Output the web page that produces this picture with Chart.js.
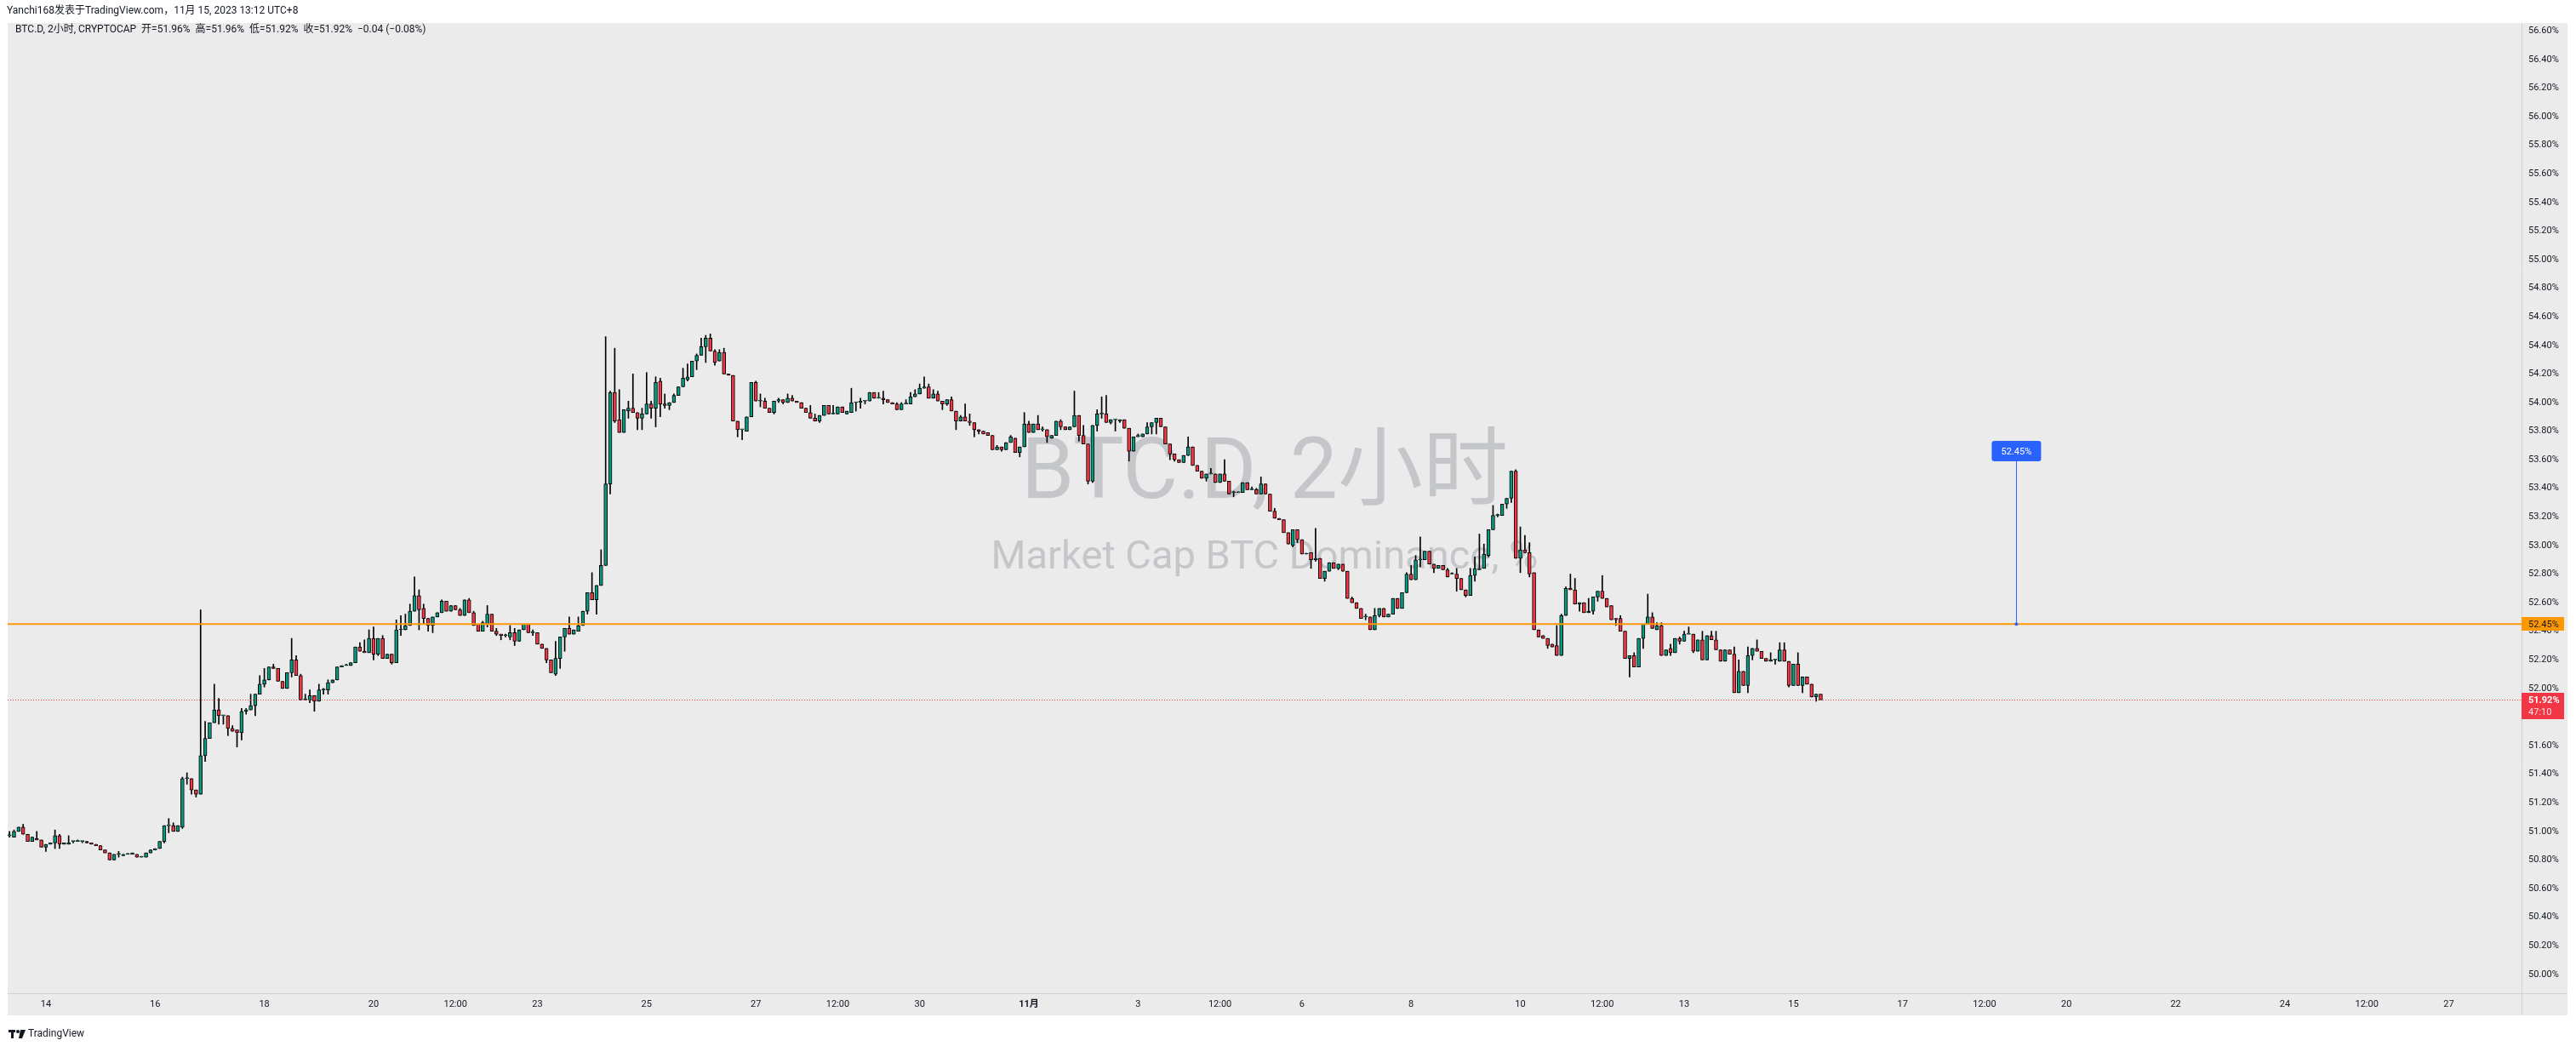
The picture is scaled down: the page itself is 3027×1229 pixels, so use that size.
<!DOCTYPE html>
<html>
<head>
<meta charset="utf-8">
<title>BTC.D, 2小时</title>
<script src="https://cdn.jsdelivr.net/npm/chart.js"></script>
<style>
  html, body { margin: 0; padding: 0; background: #fff; }
  canvas { display: block; }
</style>
</head>
<body>
<canvas id="btcd-chart" width="3027" height="1229"></canvas>
<script>
// 2h candles, first bar 13 Oct 08:00, times in hours from 14 Oct 00:00 (UTC+8)
const firstBarHour = -16;
const barHours = 2;

const opens = [
  50.97, 50.96, 51.00, 51.03, 50.98, 50.93, 50.95, 50.94, 50.89, 50.91, 50.92, 50.97,
  50.91, 50.91, 50.93, 50.93, 50.93, 50.93, 50.92, 50.91, 50.90, 50.87, 50.85, 50.80,
  50.84, 50.83, 50.84, 50.84, 50.84, 50.82, 50.82, 50.85, 50.87, 50.88, 50.93, 51.04,
  51.04, 51.00, 51.03, 51.37, 51.37, 51.29, 51.26, 51.53, 51.65, 51.76, 51.85, 51.81,
  51.81, 51.72, 51.71, 51.69, 51.84, 51.85, 51.88, 51.96, 52.03, 52.06, 52.15, 52.14,
  52.05, 52.00, 52.11, 52.20, 52.09, 51.92, 51.92, 51.95, 51.91, 51.99, 51.99, 52.04,
  52.06, 52.15, 52.16, 52.16, 52.18, 52.29, 52.26, 52.25, 52.35, 52.24, 52.35, 52.21,
  52.24, 52.18, 52.41, 52.41, 52.44, 52.54, 52.65, 52.56, 52.49, 52.44, 52.50, 52.53,
  52.61, 52.54, 52.58, 52.55, 52.51, 52.62, 52.53, 52.45, 52.40, 52.45, 52.52, 52.40,
  52.38, 52.37, 52.36, 52.39, 52.33, 52.41, 52.45, 52.39, 52.39, 52.31, 52.28, 52.20,
  52.10, 52.21, 52.36, 52.42, 52.38, 52.40, 52.44, 52.54, 52.67, 52.62, 52.72, 52.86,
  53.43, 54.07, 53.88, 53.79, 53.94, 53.96, 53.93, 53.89, 53.92, 53.99, 53.96, 54.15,
  53.99, 53.98, 54.00, 54.05, 54.11, 54.16, 54.18, 54.29, 54.33, 54.39, 54.45, 54.36,
  54.29, 54.35, 54.20, 54.19, 53.87, 53.81, 53.80, 53.90, 54.14, 54.01, 54.01, 53.96,
  53.93, 54.01, 54.02, 54.00, 54.03, 54.01, 54.00, 53.96, 53.93, 53.89, 53.87, 53.91,
  53.98, 53.92, 53.92, 53.97, 53.92, 53.93, 54.00, 54.00, 54.01, 54.01, 54.07, 54.03,
  54.03, 54.02, 54.00, 53.99, 53.95, 53.99, 53.99, 54.04, 54.06, 54.10, 54.11, 54.03,
  54.06, 54.01, 53.99, 54.02, 53.94, 53.87, 53.90, 53.87, 53.86, 53.81, 53.80, 53.79,
  53.77, 53.67, 53.69, 53.67, 53.72, 53.75, 53.65, 53.69, 53.85, 53.79, 53.85, 53.81,
  53.81, 53.75, 53.77, 53.87, 53.83, 53.81, 53.83, 53.91, 53.77, 53.71, 53.45, 53.84,
  53.92, 53.92, 53.86, 53.88, 53.87, 53.88, 53.82, 53.66, 53.76, 53.76, 53.78, 53.83,
  53.86, 53.89, 53.83, 53.71, 53.64, 53.60, 53.58, 53.63, 53.69, 53.56, 53.52, 53.47,
  53.50, 53.50, 53.44, 53.50, 53.45, 53.37, 53.37, 53.37, 53.44, 53.39, 53.39, 53.36,
  53.43, 53.36, 53.24, 53.19, 53.18, 53.09, 53.00, 53.11, 53.04, 52.94, 52.95, 52.90,
  52.91, 52.77, 52.82, 52.88, 52.84, 52.87, 52.82, 52.63, 52.60, 52.56, 52.50, 52.50,
  52.41, 52.51, 52.56, 52.50, 52.52, 52.63, 52.56, 52.67, 52.80, 52.76, 52.90, 52.90,
  52.96, 52.87, 52.84, 52.86, 52.83, 52.80, 52.80, 52.77, 52.69, 52.65, 52.79, 52.83,
  52.84, 52.93, 53.11, 53.21, 53.21, 53.29, 53.33, 53.52, 52.91, 52.97, 52.95, 52.81,
  52.41, 52.37, 52.35, 52.31, 52.30, 52.23, 52.51, 52.70, 52.69, 52.59, 52.60, 52.53,
  52.54, 52.64, 52.68, 52.63, 52.58, 52.49, 52.49, 52.40, 52.21, 52.23, 52.15, 52.35,
  52.45, 52.50, 52.41, 52.44, 52.23, 52.28, 52.25, 52.35, 52.33, 52.38, 52.38, 52.26,
  52.34, 52.20, 52.37, 52.34, 52.27, 52.19, 52.27, 52.24, 51.97, 52.12, 52.02, 52.23,
  52.28, 52.26, 52.21, 52.19, 52.20, 52.19, 52.27, 52.19, 52.02, 52.17, 52.02, 52.08,
  52.03, 51.94, 51.96
];
const highs = [
  51.00, 51.01, 51.03, 51.05, 50.98, 50.96, 51.00, 50.94, 50.91, 50.92, 51.01, 50.98,
  50.92, 50.97, 50.93, 50.94, 50.93, 50.93, 50.92, 50.91, 50.90, 50.87, 50.85, 50.84,
  50.86, 50.84, 50.84, 50.85, 50.84, 50.82, 50.85, 50.87, 50.88, 50.93, 51.04, 51.09,
  51.06, 51.04, 51.38, 51.41, 51.37, 51.29, 52.55, 51.77, 51.76, 52.03, 51.93, 51.81,
  51.81, 51.74, 51.71, 51.86, 51.86, 51.96, 51.96, 52.09, 52.14, 52.15, 52.17, 52.14,
  52.05, 52.11, 52.35, 52.23, 52.10, 51.96, 51.99, 51.95, 52.03, 52.00, 52.06, 52.06,
  52.15, 52.16, 52.17, 52.18, 52.29, 52.32, 52.34, 52.41, 52.43, 52.35, 52.37, 52.24,
  52.24, 52.48, 52.51, 52.52, 52.59, 52.78, 52.69, 52.59, 52.49, 52.50, 52.53, 52.62,
  52.61, 52.58, 52.58, 52.56, 52.62, 52.63, 52.54, 52.45, 52.47, 52.58, 52.52, 52.42,
  52.38, 52.38, 52.44, 52.42, 52.41, 52.45, 52.45, 52.41, 52.39, 52.31, 52.28, 52.20,
  52.33, 52.36, 52.42, 52.50, 52.41, 52.50, 52.54, 52.67, 52.81, 52.72, 52.97, 54.46,
  54.08, 54.38, 54.09, 53.95, 54.01, 54.20, 53.93, 53.96, 54.21, 54.01, 54.18, 54.17,
  54.06, 54.00, 54.06, 54.11, 54.24, 54.27, 54.29, 54.34, 54.45, 54.47, 54.48, 54.37,
  54.37, 54.38, 54.20, 54.19, 53.87, 53.81, 53.90, 54.14, 54.15, 54.06, 54.03, 53.96,
  54.01, 54.03, 54.02, 54.06, 54.05, 54.01, 54.00, 53.96, 53.98, 53.92, 53.91, 53.98,
  53.98, 53.98, 53.97, 53.97, 53.94, 54.10, 54.00, 54.03, 54.01, 54.07, 54.07, 54.07,
  54.08, 54.02, 54.00, 54.00, 54.00, 54.02, 54.07, 54.09, 54.13, 54.18, 54.13, 54.09,
  54.08, 54.01, 54.02, 54.04, 53.94, 53.91, 53.99, 53.92, 53.86, 53.81, 53.80, 53.79,
  53.77, 53.70, 53.69, 53.72, 53.77, 53.75, 53.69, 53.93, 53.87, 53.85, 53.91, 53.83,
  53.81, 53.77, 53.87, 53.88, 53.83, 53.83, 54.08, 53.91, 53.84, 53.71, 53.84, 53.95,
  54.04, 54.05, 53.88, 53.88, 53.88, 53.88, 53.82, 53.76, 53.78, 53.78, 53.86, 53.86,
  53.89, 53.89, 53.83, 53.71, 53.64, 53.60, 53.63, 53.76, 53.69, 53.56, 53.52, 53.50,
  53.54, 53.50, 53.50, 53.60, 53.45, 53.38, 53.37, 53.44, 53.44, 53.41, 53.40, 53.48,
  53.43, 53.36, 53.26, 53.19, 53.18, 53.09, 53.11, 53.11, 53.04, 52.94, 52.95, 53.12,
  52.91, 52.82, 52.88, 52.88, 52.87, 52.87, 52.82, 52.64, 52.60, 52.56, 52.52, 52.50,
  52.56, 52.56, 52.56, 52.52, 52.63, 52.63, 52.67, 52.81, 52.86, 52.93, 53.06, 52.96,
  52.96, 52.87, 52.86, 52.86, 52.84, 52.81, 52.84, 52.77, 52.69, 52.84, 52.92, 53.08,
  53.01, 53.11, 53.28, 53.22, 53.29, 53.33, 53.52, 53.53, 53.13, 53.07, 53.02, 52.81,
  52.41, 52.37, 52.35, 52.31, 52.44, 52.52, 52.71, 52.80, 52.77, 52.60, 52.60, 52.63,
  52.64, 52.68, 52.79, 52.63, 52.58, 52.49, 52.51, 52.40, 52.23, 52.25, 52.35, 52.45,
  52.66, 52.53, 52.46, 52.46, 52.27, 52.31, 52.35, 52.36, 52.40, 52.43, 52.38, 52.34,
  52.40, 52.37, 52.40, 52.40, 52.27, 52.27, 52.27, 52.29, 52.20, 52.12, 52.29, 52.28,
  52.34, 52.26, 52.21, 52.25, 52.20, 52.32, 52.32, 52.19, 52.17, 52.25, 52.08, 52.08,
  52.03, 51.96, 51.96
];
const lows = [
  50.96, 50.96, 51.00, 50.98, 50.93, 50.93, 50.94, 50.89, 50.86, 50.91, 50.88, 50.88,
  50.91, 50.91, 50.92, 50.93, 50.92, 50.92, 50.91, 50.90, 50.87, 50.85, 50.80, 50.80,
  50.82, 50.83, 50.84, 50.84, 50.82, 50.82, 50.82, 50.85, 50.87, 50.88, 50.92, 50.99,
  51.00, 51.00, 51.02, 51.33, 51.26, 51.24, 51.26, 51.49, 51.65, 51.76, 51.75, 51.75,
  51.67, 51.70, 51.59, 51.64, 51.82, 51.85, 51.81, 51.96, 52.01, 52.06, 52.14, 52.05,
  52.00, 52.00, 52.08, 52.09, 51.92, 51.92, 51.90, 51.84, 51.91, 51.96, 51.96, 52.04,
  52.06, 52.15, 52.16, 52.16, 52.18, 52.26, 52.25, 52.25, 52.20, 52.23, 52.21, 52.21,
  52.17, 52.18, 52.37, 52.41, 52.44, 52.54, 52.41, 52.45, 52.40, 52.39, 52.50, 52.53,
  52.54, 52.54, 52.55, 52.51, 52.51, 52.53, 52.44, 52.40, 52.40, 52.43, 52.40, 52.37,
  52.34, 52.36, 52.34, 52.30, 52.33, 52.41, 52.39, 52.37, 52.31, 52.28, 52.18, 52.11,
  52.09, 52.14, 52.26, 52.38, 52.38, 52.40, 52.44, 52.52, 52.62, 52.52, 52.72, 52.86,
  53.36, 53.86, 53.79, 53.79, 53.89, 53.93, 53.81, 53.81, 53.92, 53.89, 53.83, 53.90,
  53.96, 53.95, 54.00, 54.05, 54.11, 54.15, 54.18, 54.23, 54.33, 54.28, 54.36, 54.26,
  54.29, 54.20, 54.19, 53.87, 53.76, 53.74, 53.80, 53.90, 54.01, 53.97, 53.96, 53.93,
  53.92, 54.00, 53.99, 54.00, 54.01, 54.00, 53.96, 53.93, 53.89, 53.87, 53.86, 53.91,
  53.92, 53.92, 53.92, 53.93, 53.92, 53.93, 53.94, 53.96, 53.99, 54.01, 54.03, 54.03,
  53.99, 54.00, 53.99, 53.95, 53.95, 53.99, 53.99, 54.04, 54.06, 54.10, 54.03, 54.03,
  54.01, 53.95, 53.98, 53.94, 53.81, 53.87, 53.87, 53.84, 53.76, 53.78, 53.78, 53.77,
  53.67, 53.67, 53.66, 53.67, 53.72, 53.65, 53.62, 53.69, 53.79, 53.79, 53.81, 53.80,
  53.72, 53.75, 53.77, 53.81, 53.81, 53.81, 53.83, 53.73, 53.71, 53.43, 53.44, 53.80,
  53.89, 53.86, 53.85, 53.80, 53.86, 53.82, 53.59, 53.66, 53.76, 53.76, 53.78, 53.78,
  53.78, 53.83, 53.71, 53.60, 53.59, 53.58, 53.58, 53.63, 53.56, 53.52, 53.47, 53.45,
  53.50, 53.44, 53.44, 53.45, 53.36, 53.34, 53.37, 53.37, 53.39, 53.39, 53.36, 53.36,
  53.36, 53.24, 53.19, 53.18, 53.09, 53.01, 52.99, 53.02, 52.94, 52.94, 52.84, 52.89,
  52.77, 52.75, 52.82, 52.84, 52.83, 52.82, 52.63, 52.60, 52.56, 52.49, 52.48, 52.41,
  52.41, 52.50, 52.50, 52.50, 52.52, 52.56, 52.56, 52.67, 52.76, 52.76, 52.85, 52.90,
  52.87, 52.81, 52.84, 52.83, 52.78, 52.80, 52.68, 52.69, 52.64, 52.65, 52.75, 52.83,
  52.84, 52.92, 53.11, 53.20, 53.21, 53.26, 53.30, 52.91, 52.81, 52.95, 52.78, 52.41,
  52.36, 52.35, 52.28, 52.29, 52.23, 52.23, 52.51, 52.69, 52.59, 52.54, 52.53, 52.53,
  52.52, 52.61, 52.63, 52.57, 52.48, 52.44, 52.40, 52.21, 52.08, 52.15, 52.15, 52.28,
  52.45, 52.42, 52.41, 52.23, 52.23, 52.23, 52.25, 52.31, 52.33, 52.38, 52.25, 52.26,
  52.20, 52.20, 52.34, 52.27, 52.19, 52.19, 52.24, 51.97, 51.97, 52.02, 51.97, 52.20,
  52.26, 52.21, 52.19, 52.19, 52.17, 52.19, 52.19, 52.01, 52.02, 52.02, 51.97, 52.03,
  51.94, 51.91, 51.92
];
const closes = [
  50.97, 51.00, 51.03, 50.98, 50.93, 50.96, 50.94, 50.89, 50.91, 50.92, 50.97, 50.91,
  50.92, 50.92, 50.93, 50.93, 50.93, 50.92, 50.91, 50.90, 50.87, 50.85, 50.80, 50.84,
  50.84, 50.84, 50.84, 50.85, 50.82, 50.82, 50.85, 50.87, 50.88, 50.93, 51.04, 51.04,
  51.00, 51.04, 51.37, 51.37, 51.29, 51.26, 51.53, 51.65, 51.76, 51.85, 51.81, 51.81,
  51.72, 51.70, 51.69, 51.84, 51.85, 51.88, 51.96, 52.03, 52.06, 52.15, 52.14, 52.05,
  52.00, 52.11, 52.20, 52.09, 51.92, 51.92, 51.95, 51.91, 51.99, 51.99, 52.04, 52.06,
  52.15, 52.16, 52.16, 52.18, 52.29, 52.26, 52.25, 52.35, 52.24, 52.35, 52.21, 52.24,
  52.18, 52.41, 52.41, 52.44, 52.54, 52.65, 52.55, 52.49, 52.44, 52.50, 52.53, 52.61,
  52.54, 52.58, 52.55, 52.51, 52.62, 52.53, 52.44, 52.40, 52.46, 52.52, 52.40, 52.38,
  52.37, 52.37, 52.39, 52.33, 52.41, 52.45, 52.39, 52.39, 52.31, 52.28, 52.20, 52.11,
  52.21, 52.36, 52.42, 52.38, 52.41, 52.44, 52.54, 52.67, 52.62, 52.72, 52.86, 53.43,
  54.07, 53.87, 53.79, 53.95, 53.96, 53.93, 53.89, 53.92, 53.99, 53.96, 54.14, 53.99,
  53.98, 54.00, 54.05, 54.11, 54.17, 54.18, 54.29, 54.33, 54.39, 54.45, 54.36, 54.28,
  54.35, 54.20, 54.19, 53.87, 53.81, 53.81, 53.90, 54.14, 54.01, 54.01, 53.96, 53.93,
  54.01, 54.02, 54.00, 54.03, 54.01, 54.00, 53.96, 53.93, 53.89, 53.87, 53.91, 53.98,
  53.92, 53.92, 53.97, 53.93, 53.94, 54.00, 54.00, 54.01, 54.01, 54.07, 54.03, 54.03,
  54.02, 54.00, 53.99, 53.95, 53.99, 53.99, 54.04, 54.06, 54.10, 54.11, 54.03, 54.06,
  54.01, 53.99, 54.02, 53.94, 53.87, 53.90, 53.87, 53.86, 53.81, 53.80, 53.78, 53.77,
  53.67, 53.69, 53.67, 53.72, 53.76, 53.65, 53.69, 53.85, 53.79, 53.85, 53.81, 53.81,
  53.76, 53.77, 53.87, 53.83, 53.81, 53.83, 53.91, 53.77, 53.71, 53.45, 53.84, 53.92,
  53.92, 53.86, 53.88, 53.88, 53.88, 53.82, 53.66, 53.76, 53.77, 53.78, 53.83, 53.86,
  53.89, 53.83, 53.71, 53.64, 53.60, 53.58, 53.63, 53.69, 53.56, 53.52, 53.47, 53.50,
  53.50, 53.44, 53.50, 53.45, 53.36, 53.37, 53.37, 53.44, 53.39, 53.39, 53.36, 53.43,
  53.36, 53.24, 53.19, 53.18, 53.09, 53.01, 53.11, 53.04, 52.94, 52.94, 52.90, 52.91,
  52.77, 52.82, 52.88, 52.84, 52.87, 52.82, 52.63, 52.60, 52.56, 52.49, 52.50, 52.41,
  52.51, 52.56, 52.50, 52.52, 52.63, 52.56, 52.67, 52.80, 52.76, 52.90, 52.90, 52.96,
  52.87, 52.84, 52.86, 52.83, 52.78, 52.80, 52.77, 52.69, 52.65, 52.79, 52.84, 52.84,
  52.94, 53.11, 53.21, 53.21, 53.29, 53.33, 53.52, 52.91, 52.97, 52.95, 52.80, 52.41,
  52.36, 52.35, 52.30, 52.29, 52.23, 52.51, 52.70, 52.69, 52.59, 52.60, 52.53, 52.54,
  52.64, 52.68, 52.63, 52.57, 52.48, 52.48, 52.40, 52.21, 52.23, 52.15, 52.35, 52.45,
  52.50, 52.42, 52.44, 52.23, 52.27, 52.25, 52.35, 52.33, 52.38, 52.38, 52.26, 52.34,
  52.20, 52.37, 52.34, 52.27, 52.19, 52.27, 52.24, 51.97, 52.12, 52.02, 52.23, 52.28,
  52.26, 52.21, 52.19, 52.20, 52.20, 52.27, 52.19, 52.02, 52.17, 52.02, 52.08, 52.03,
  51.94, 51.96, 51.92
];

// time axis labels (hours from 14 Oct 00:00)
const tickHours = [0, 48, 96, 144, 180, 216, 264, 312, 348, 384, 432, 480, 516,
  552, 600, 648, 684, 720, 768, 816, 852, 888, 936, 984, 1020, 1056];
const tickLabels = ['14', '16', '18', '20', '12:00', '23', '25', '27', '12:00', '30', '11月', '3', '12:00',
  '6', '8', '10', '12:00', '13', '15', '17', '12:00', '20', '22', '24', '12:00', '27'];
const priceTicks = [50.0, 50.2, 50.4, 50.6, 50.8, 51.0, 51.2, 51.4, 51.6, 51.8, 52.0, 52.2,
  52.4, 52.6, 52.8, 53.0, 53.2, 53.4, 53.6, 53.8, 54.0, 54.2, 54.4, 54.6, 54.8, 55.0,
  55.2, 55.4, 55.6, 55.8, 56.0, 56.2, 56.4, 56.6];

const levelPrice = 52.45;      // orange horizontal line
const notePos = { hour: 866, price: 53.66 };  // blue price note
const countdown = '47:10';

const FONT = 'Roboto, "Noto Sans CJK SC", sans-serif';
const TEXT = '#131722';
const upColor = '#089981';
const downColor = '#f23645';
const paneBg = '#ebebeb';
const sepColor = '#d2d2d2';

const barTimes = closes.map((_, i) => firstBarHour + i * barHours);
const wickData = barTimes.map((t, i) => ({ x: t, y: [lows[i], highs[i]] }));
const bodyData = barTimes.map((t, i) => ({ x: t, y: [opens[i], closes[i]] }));
const bodyColors = closes.map((c, i) => (c >= opens[i] ? upColor : downColor));

const last = closes.length - 1;
const chg = closes[last] - closes[last - 1];
const fmt = v => (v < 0 ? '\u2212' : '') + Math.abs(v).toFixed(2);
const legendText = 'BTC.D, 2小时, CRYPTOCAP  开=' + opens[last].toFixed(2) + '%  高=' + highs[last].toFixed(2) +
  '%  低=' + lows[last].toFixed(2) + '%  收=' + closes[last].toFixed(2) + '%  ' + fmt(chg) +
  ' (' + fmt(chg / closes[last - 1] * 100) + '%)';

const frame = {
  id: 'frame',
  beforeDraw(chart) {
    const { ctx } = chart;
    const xs = chart.scales.x, ys = chart.scales.y;
    ctx.save();
    ctx.fillStyle = '#fff';
    ctx.fillRect(0, 0, chart.width, chart.height);
    ctx.fillStyle = paneBg;
    ctx.fillRect(xs.left, ys.top, ys.right - xs.left, xs.bottom - ys.top);
    ctx.fillStyle = TEXT;
    ctx.textBaseline = 'middle';
    ctx.font = '12px ' + FONT;
    ctx.fillText('Yanchi168发表于TradingView.com，11月 15, 2023 13:12 UTC+8', 8, 13);
    ctx.restore();
  },
  beforeDatasetsDraw(chart) {
    const { ctx, chartArea: a } = chart;
    const cx = (a.left + a.right) / 2, cy = (a.top + a.bottom) / 2;
    ctx.save();
    ctx.fillStyle = '#c5c6c9';
    ctx.textAlign = 'center';
    ctx.textBaseline = 'alphabetic';
    ctx.font = '100px ' + FONT;
    ctx.fillText('BTC.D, 2小时', cx, cy - 12);
    ctx.font = '47px ' + FONT;
    ctx.fillText('Market Cap BTC Dominance, %', cx, cy + 71);
    ctx.restore();
  },
  afterDatasetsDraw(chart) {
    const { ctx, chartArea: a } = chart;
    const xs = chart.scales.x, ys = chart.scales.y;
    ctx.save();
    // last price dotted line
    const py = Math.round(ys.getPixelForValue(closes[last])) + 0.5;
    ctx.strokeStyle = downColor;
    ctx.lineWidth = 1;
    ctx.setLineDash([1, 2]);
    ctx.beginPath();
    ctx.moveTo(a.left, py);
    ctx.lineTo(a.right, py);
    ctx.stroke();
    ctx.setLineDash([]);
    // orange level
    const ly = ys.getPixelForValue(levelPrice);
    ctx.strokeStyle = '#ff9800';
    ctx.lineWidth = 2;
    ctx.beginPath();
    ctx.moveTo(a.left, ly);
    ctx.lineTo(a.right, ly);
    ctx.stroke();
    // price note
    const nx = xs.getPixelForValue(notePos.hour);
    const ny = ys.getPixelForValue(notePos.price);
    ctx.strokeStyle = '#2962ff';
    ctx.lineWidth = 1;
    ctx.beginPath();
    ctx.moveTo(Math.round(nx) + 0.5, ny + 12);
    ctx.lineTo(Math.round(nx) + 0.5, ly);
    ctx.stroke();
    ctx.fillStyle = '#2962ff';
    ctx.beginPath();
    ctx.arc(nx, ly, 2, 0, Math.PI * 2);
    ctx.fill();
    ctx.beginPath();
    ctx.roundRect(nx - 29, ny - 12, 58, 24, 3);
    ctx.fill();
    ctx.fillStyle = '#fff';
    ctx.font = '11px ' + FONT;
    ctx.textAlign = 'center';
    ctx.textBaseline = 'middle';
    ctx.fillText(levelPrice.toFixed(2) + '%', nx, ny + 1);
    ctx.restore();
  },
  afterDraw(chart) {
    const { ctx } = chart;
    const xs = chart.scales.x, ys = chart.scales.y;
    ctx.save();
    // pane separators
    ctx.strokeStyle = sepColor;
    ctx.lineWidth = 1;
    ctx.beginPath();
    ctx.moveTo(ys.left + 0.5, ys.top);
    ctx.lineTo(ys.left + 0.5, xs.bottom);
    ctx.moveTo(xs.left, xs.top + 0.5);
    ctx.lineTo(ys.right, xs.top + 0.5);
    ctx.stroke();
    // legend inside pane
    ctx.fillStyle = TEXT;
    ctx.font = '12px ' + FONT;
    ctx.textBaseline = 'middle';
    ctx.fillText(legendText, 18, 35);
    // axis price labels
    ctx.font = '11px ' + FONT;
    const ly = ys.getPixelForValue(levelPrice);
    ctx.fillStyle = '#ff9800';
    ctx.fillRect(ys.left, Math.round(ly) - 8, 50, 16);
    ctx.fillStyle = TEXT;
    ctx.fillText(levelPrice.toFixed(2) + '%', ys.left + 8, ly + 1);
    const py = ys.getPixelForValue(closes[last]);
    ctx.fillStyle = downColor;
    ctx.fillRect(ys.left, Math.round(py) - 8, 50, 31);
    ctx.fillStyle = '#fff';
    ctx.font = 'bold 11px ' + FONT;
    ctx.fillText(closes[last].toFixed(2) + '%', ys.left + 8, py + 1);
    ctx.font = '11px ' + FONT;
    ctx.fillStyle = 'rgba(255,255,255,0.85)';
    ctx.fillText(countdown, ys.left + 8, py + 15);
    // footer logo
    ctx.fillStyle = TEXT;
    ctx.fillRect(10, 1210, 8, 3);
    ctx.fillRect(13, 1210, 3, 10);
    ctx.beginPath();
    ctx.arc(21, 1212, 2, 0, Math.PI * 2);
    ctx.fill();
    ctx.beginPath();
    ctx.moveTo(24, 1210);
    ctx.lineTo(30, 1210);
    ctx.lineTo(26, 1220);
    ctx.lineTo(22, 1220);
    ctx.closePath();
    ctx.fill();
    ctx.font = '12px ' + FONT;
    ctx.fillText('TradingView', 33, 1215);
    ctx.restore();
  }
};

const ctx = document.getElementById('btcd-chart').getContext('2d');
const btcdChart = new Chart(ctx, {
  type: 'bar',
  data: {
    datasets: [
      {
        label: 'body',
        data: bodyData,
        backgroundColor: bodyColors,
        borderColor: '#000',
        borderWidth: 1,
        borderSkipped: false,
        barThickness: 4,
        minBarLength: 1,
        grouped: false,
        order: 0
      },
      {
        label: 'wick',
        data: wickData,
        backgroundColor: '#000',
        borderWidth: 0,
        barThickness: 1,
        minBarLength: 1,
        grouped: false,
        order: 1
      }
    ]
  },
  options: {
    responsive: false,
    animation: false,
    devicePixelRatio: 1,
    layout: { padding: { left: 9, top: 27, right: 10, bottom: 36 } },
    plugins: { legend: { display: false }, tooltip: { enabled: false } },
    scales: {
      x: {
        type: 'linear',
        min: -16.8,
        max: 1088,
        offset: false,
        grid: { display: false, drawTicks: false },
        border: { display: false },
        afterBuildTicks: s => { s.ticks = tickHours.map(v => ({ value: v })); },
        afterFit: s => { s.height = 26; },
        ticks: {
          autoSkip: false,
          maxRotation: 0,
          padding: 7,
          color: TEXT,
          font: c => ({ family: FONT, size: 11, weight: c.tick && c.tick.label === '11月' ? 'bold' : 'normal' }),
          callback: (v, i) => tickLabels[i]
        }
      },
      y: {
        type: 'linear',
        position: 'right',
        min: 49.868,
        max: 56.655,
        grid: { display: false, drawTicks: false },
        border: { display: false },
        afterBuildTicks: s => { s.ticks = priceTicks.map(v => ({ value: v })); },
        afterFit: s => { s.width = 54; },
        ticks: {
          autoSkip: false,
          padding: 8,
          color: TEXT,
          font: { family: FONT, size: 11 },
          callback: v => v.toFixed(2) + '%'
        }
      }
    }
  },
  plugins: [frame]
});
</script>
</body>
</html>
